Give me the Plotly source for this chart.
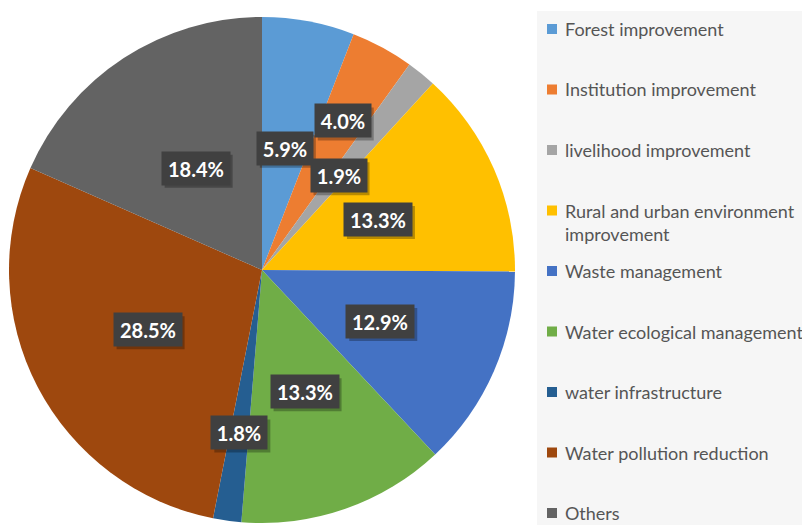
import math
import plotly.graph_objects as go

# Share of projects by category (%)
categories = [
    "Forest improvement",
    "Institution improvement",
    "livelihood improvement",
    "Rural and urban environment improvement",
    "Waste management",
    "Water ecological management",
    "water infrastructure",
    "Water pollution reduction",
    "Others",
]
legend_text = [
    "Forest improvement",
    "Institution improvement",
    "livelihood improvement",
    "Rural and urban environment<br>improvement",
    "Waste management",
    "Water ecological management",
    "water infrastructure",
    "Water pollution reduction",
    "Others",
]
shares = [5.9, 4.0, 1.9, 13.3, 12.9, 13.3, 1.8, 28.5, 18.4]

colors = ["#5B9BD5", "#ED7D31", "#A5A5A5", "#FFC000", "#4472C4",
          "#70AD47", "#255E91", "#9E480E", "#636363"]
# radial position of each data label, as a fraction of the pie radius
label_radius = [0.49, 0.67, 0.48, 0.50, 0.51, 0.51, 0.65, 0.51, 0.48]

W, H = 802, 527
CX, CY, R = 262, 270, 253  # pie centre / radius in pixels


def px_x(x):
    return x / W


def px_y(y):
    return 1 - y / H


fig = go.Figure()
fig.add_trace(go.Pie(
    labels=categories,
    values=shares,
    sort=False,
    direction="clockwise",
    rotation=0,
    marker=dict(colors=colors, line=dict(width=0)),
    textinfo="none",
    hovertemplate="%{label}: %{value:.1f}%<extra></extra>",
    domain=dict(x=[px_x(CX - R), px_x(CX + R)], y=[px_y(CY + R), px_y(CY - R)]),
    showlegend=False,
))

shapes = []
annotations = []

# legend panel
shapes.append(dict(type="rect", xref="paper", yref="paper",
                   x0=px_x(537), x1=1.0, y0=px_y(525), y1=px_y(11),
                   fillcolor="#F6F6F6", line=dict(width=0), layer="below"))

# data labels placed at the middle angle of each slice
PAD, BOX_H = 4, 25
total = sum(shares)
cum = 0.0
for v, frac in zip(shares, label_radius):
    mid = (cum + v / 2) / total * 2 * math.pi
    cum += v
    lx = CX + R * frac * math.sin(mid)
    ly = CY - R * frac * math.cos(mid)
    txt = f"{v:.1f}%"
    box_w = 12 * len(txt)
    # soft drop shadow behind the label box
    half_w, half_h = box_w / 2 + PAD, BOX_H / 2 + PAD
    shapes.append(dict(type="rect", xref="paper", yref="paper",
                       x0=px_x(lx - half_w + 3), x1=px_x(lx + half_w + 3),
                       y0=px_y(ly + half_h + 3), y1=px_y(ly - half_h + 3),
                       fillcolor="rgba(0,0,0,0.28)", line=dict(width=0)))
    annotations.append(dict(
        x=px_x(lx), y=px_y(ly), xref="paper", yref="paper",
        xanchor="center", yanchor="middle",
        width=box_w, height=BOX_H,
        text=txt, showarrow=False,
        font=dict(family="Lato", size=20, color="white", weight="bold"),
        bgcolor="#404040", borderpad=PAD,
    ))

# legend entries
LEG_Y0, LEG_DY = 29, 60.5
for i, (name, col) in enumerate(zip(legend_text, colors)):
    yc = LEG_Y0 + i * LEG_DY
    shapes.append(dict(type="rect", xref="paper", yref="paper",
                       x0=px_x(547), x1=px_x(557), y0=px_y(yc + 5), y1=px_y(yc - 5),
                       fillcolor=col, line=dict(width=0)))
    annotations.append(dict(
        x=px_x(563), y=px_y(yc - 13), xref="paper", yref="paper",
        xanchor="left", yanchor="top", align="left",
        text=name, showarrow=False,
        font=dict(family="Lato", size=18, color="#555555"),
    ))

fig.update_layout(
    width=W, height=H,
    margin=dict(l=0, r=0, t=0, b=0),
    paper_bgcolor="white",
    plot_bgcolor="white",
    shapes=shapes,
    annotations=annotations,
)

fig.write_html("out.html")
